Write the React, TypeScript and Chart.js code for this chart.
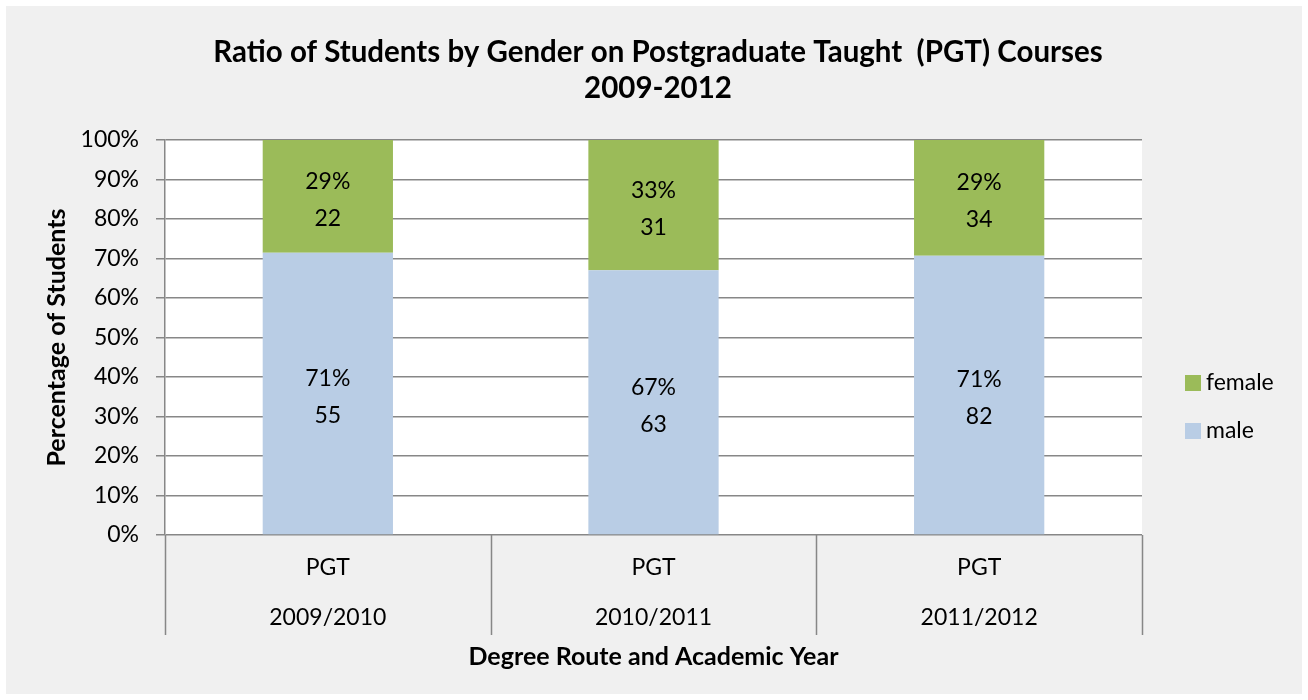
import React, { useEffect, useRef } from "react";
import { Chart, registerables } from "chart.js";

Chart.register(...registerables);

const routes = ["PGT", "PGT", "PGT"];
const years = ["2009/2010", "2010/2011", "2011/2012"];
const maleCounts = [55, 63, 82];
const femaleCounts = [22, 31, 34];
const seriesNames = ["male", "female"];
const titleLines = ["Ratio of Students by Gender on Postgraduate Taught  (PGT) Courses", "2009-2012"];
const yTitle = "Percentage of Students";
const xTitle = "Degree Route and Academic Year";

const FONT = "Lato";
const GREEN = "#9BBB59";
const BLUE = "#B9CDE5";
const GRID = "#878787";

const malePct = maleCounts.map((m, i) => (m / (m + femaleCounts[i])) * 100);
const femalePct = femaleCounts.map((f, i) => (f / (maleCounts[i] + f)) * 100);

export default function App() {
  const ref = useRef<HTMLCanvasElement | null>(null);

  useEffect(() => {
    if (!ref.current) return;
    const counts = [maleCounts, femaleCounts];

    const bgPlugin = {
      id: "plotBg",
      beforeDraw(chart: any) {
        const { ctx, chartArea } = chart;
        ctx.save();
        ctx.fillStyle = "#ffffff";
        ctx.fillRect(chartArea.left, chartArea.top, chartArea.right - chartArea.left, chartArea.bottom - chartArea.top);
        ctx.restore();
      },
    };

    const extrasPlugin = {
      id: "extras",
      afterDatasetsDraw(chart: any) {
        const { ctx } = chart;
        ctx.save();
        ctx.font = `23px ${FONT}`;
        ctx.fillStyle = "#000";
        ctx.textAlign = "center";
        ctx.textBaseline = "middle";
        chart.data.datasets.forEach((ds: any, di: number) => {
          const meta = chart.getDatasetMeta(di);
          meta.data.forEach((bar: any, i: number) => {
            const p = bar.getProps(["x", "y", "base"], true);
            const cy = (p.y + p.base) / 2 + 3;
            ctx.fillText(Math.round(ds.data[i]) + "%", p.x, cy - 18);
            ctx.fillText(String(counts[di][i]), p.x, cy + 19);
          });
        });
        ctx.restore();
      },
      afterDraw(chart: any) {
        const { ctx, chartArea, width } = chart;
        const xs = chart.scales.x;
        ctx.save();
        // title
        ctx.font = `bold 29.5px ${FONT}`;
        ctx.fillStyle = "#000";
        ctx.textAlign = "center";
        ctx.textBaseline = "middle";
        titleLines.forEach((t, i) => ctx.fillText(t, width / 2 + 4, 46 + i * 36));
        // category separators below axis
        ctx.strokeStyle = GRID;
        ctx.lineWidth = 1.5;
        const n = chart.data.labels.length;
        const half = (xs.getPixelForValue(1) - xs.getPixelForValue(0)) / 2;
        for (let i = 0; i <= n; i++) {
          const x = Math.round(xs.getPixelForValue(0) - half + i * half * 2) + 0.5;
          ctx.beginPath();
          ctx.moveTo(x, chartArea.bottom);
          ctx.lineTo(x, chartArea.bottom + 100);
          ctx.stroke();
        }
        // legend
        const items = [
          { label: chart.data.datasets[1].label, color: chart.data.datasets[1].backgroundColor, y: chartArea.top + 243 },
          { label: chart.data.datasets[0].label, color: chart.data.datasets[0].backgroundColor, y: chartArea.top + 291 },
        ];
        ctx.font = `23px ${FONT}`;
        ctx.textAlign = "left";
        ctx.textBaseline = "middle";
        items.forEach((it) => {
          const bx = chartArea.right + 43;
          ctx.fillStyle = it.color;
          ctx.fillRect(bx, it.y - 8, 16, 16);
          ctx.fillStyle = "#000";
          ctx.fillText(it.label, bx + 21, it.y);
        });
        ctx.restore();
      },
    };

    const chart = new Chart(ref.current, {
      type: "bar",
      data: {
        labels: years.map((y, i) => [routes[i], "", y]),
        datasets: [
          { label: seriesNames[0], data: malePct, backgroundColor: BLUE, categoryPercentage: 1, barPercentage: 0.4 },
          { label: seriesNames[1], data: femalePct, backgroundColor: GREEN, categoryPercentage: 1, barPercentage: 0.4 },
        ],
      },
      options: {
        animation: false,
        responsive: false,
        maintainAspectRatio: false,
        layout: { padding: { left: 0, right: 160, top: 134, bottom: 0 } },
        plugins: {
          legend: { display: false },
          tooltip: { enabled: false },
          title: { display: false },
        },
        scales: {
          x: {
            stacked: true,
            grid: { display: false },
            border: { display: false },
            ticks: {
              color: "#000",
              font: { family: FONT, size: 23, lineHeight: 25 / 23 },
              padding: 12,
              maxRotation: 0,
              autoSkip: false,
            },
            title: {
              display: true,
              text: xTitle,
              color: "#000",
              font: { family: FONT, size: 25, weight: "bold", lineHeight: 1.2 },
              padding: { top: 0, bottom: 22 },
            },
            afterFit(s: any) {
              s.height = 159;
            },
          },
          y: {
            stacked: true,
            min: 0,
            max: 100,
            ticks: {
              stepSize: 10,
              color: "#000",
              font: { family: FONT, size: 23 },
              padding: 17,
              callback: (v: any) => v + "%",
            },
            grid: { color: GRID, lineWidth: 1.5, tickLength: 9 },
            border: { color: GRID, width: 1.5 },
            title: {
              display: true,
              text: yTitle,
              color: "#000",
              font: { family: FONT, size: 25, weight: "bold", lineHeight: 1.2 },
              padding: { top: 36, bottom: 0 },
            },
            afterFit(s: any) {
              s.width = 159;
            },
          },
        },
      },
      plugins: [bgPlugin, extrasPlugin],
    });
    return () => chart.destroy();
  }, []);

  return (
    <div style={{ position: "absolute", left: 0, top: 0, width: 1308, height: 700, background: "#ffffff" }}>
      <div style={{ position: "absolute", left: 6, top: 6, width: 1296, height: 688, background: "#F0F0F0" }}>
        <canvas ref={ref} width={1296} height={688} style={{ display: "block" }} />
      </div>
    </div>
  );
}
